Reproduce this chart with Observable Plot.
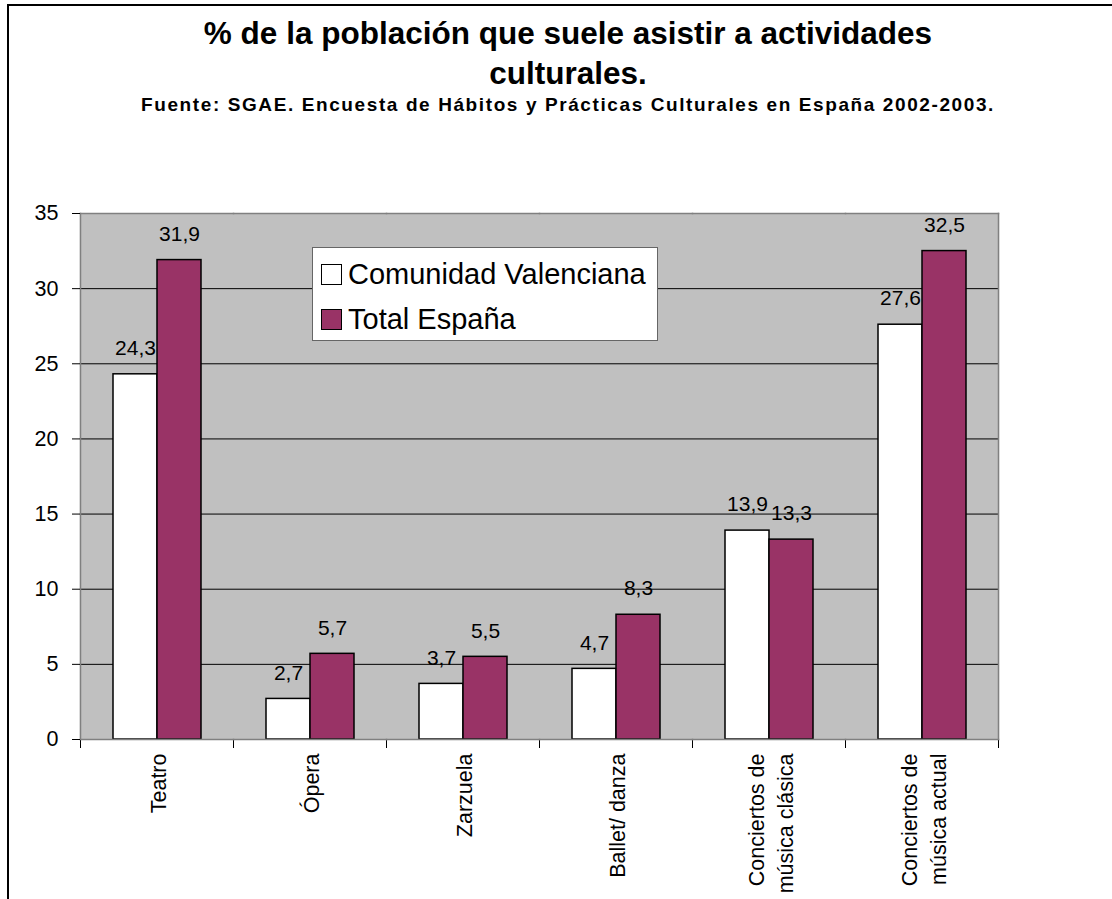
<!DOCTYPE html>
<html>
<head>
<meta charset="utf-8">
<script src="https://cdn.jsdelivr.net/npm/d3@7"></script>
<script src="https://cdn.jsdelivr.net/npm/@observablehq/plot@0.6"></script>
<style>
  html, body { margin: 0; padding: 0; background: #fff; }
  #page { position: relative; width: 1112px; height: 899px; overflow: hidden; font-family: Arial, "Liberation Sans", sans-serif; }
  #border { position: absolute; left: 7px; top: 4px; width: 1200px; height: 1000px; border-top: 2px solid #000; border-left: 2px solid #000; }
  .t { position: absolute; left: 0; width: 1136px; text-align: center; font-weight: bold; color: #000; white-space: nowrap; }
  #t1 { top: 18px; font-size: 31.5px; line-height: 31.5px; }
  #t2 { top: 58px; font-size: 31.5px; line-height: 31.5px; }
  #sub { top: 95px; font-size: 19px; line-height: 19px; letter-spacing: 1.6px; }
  #chart { position: absolute; left: 0; top: 130px; }
  #legend { position: absolute; left: 312px; top: 247px; width: 344px; height: 92px; background: #fff; border: 1px solid #666; }
  .li { position: absolute; left: 8px; font-size: 29px; line-height: 29px; color: #000; white-space: nowrap; }
  .sw { display: inline-block; width: 19px; height: 19px; border: 1px solid #000; margin-right: 6px; vertical-align: -1px; }
</style>
</head>
<body>
<div id="page">
  <div id="border"></div>
  <div class="t" id="t1">% de la población que suele asistir a actividades</div>
  <div class="t" id="t2">culturales.</div>
  <div class="t" id="sub">Fuente: SGAE. Encuesta de Hábitos y Prácticas Culturales en España 2002-2003.</div>
  <div id="chart"></div>
  <div id="legend"></div>
</div>
<script>
const categories = ["Teatro", "Ópera", "Zarzuela", "Ballet/ danza", "Conciertos de\nmúsica clásica", "Conciertos de\nmúsica actual"];
const series = ["Comunidad Valenciana", "Total España"];
const valencia = [24.3, 2.7, 3.7, 4.7, 13.9, 27.6];
const espana = [31.9, 5.7, 5.5, 8.3, 13.3, 32.5];
const yTicks = [0, 5, 10, 15, 20, 25, 30, 35];
const colors = ["#ffffff", "#993366"];

const data = [];
categories.forEach((c, i) => {
  data.push({cat: c, series: series[0], value: valencia[i]});
  data.push({cat: c, series: series[1], value: espana[i]});
});
const fmt = v => v.toFixed(1).replace(".", ",");
const firstCat = categories[0];
const lastCat = categories[categories.length - 1];

const plotH = 526;
const chart = Plot.plot({
  width: 1112,
  height: 769,
  marginTop: 83,
  marginLeft: 79,
  marginRight: 114,
  marginBottom: 160,
  style: {fontFamily: 'Arial, "Liberation Sans", sans-serif', background: "transparent", color: "#000", overflow: "visible"},
  fx: {domain: categories, padding: 0},
  x: {domain: series, paddingInner: 0, paddingOuter: 0.72, axis: null},
  y: {domain: [0, 35], axis: null},
  color: {domain: series, range: colors},
  marks: [
    Plot.frame({fill: "#c0c0c0", stroke: "none", insetLeft: -0.6, insetRight: -0.6}),
    Plot.gridY(yTicks.filter(d => d > 0 && d < 35), {stroke: "#000", strokeOpacity: 1, strokeWidth: 1}),
    Plot.frame({anchor: "top", stroke: "#808080", strokeWidth: 1.5}),
    Plot.frame({anchor: "right", stroke: "#808080", strokeWidth: 1.5, fx: () => lastCat}),
    Plot.frame({anchor: "left", stroke: "#808080", strokeWidth: 1.5, fx: () => firstCat}),
    Plot.frame({anchor: "left", stroke: "#000", insetTop: plotH, insetBottom: -8}),
    Plot.frame({anchor: "right", stroke: "#000", insetTop: plotH, insetBottom: -8, fx: () => lastCat}),
    Plot.barY(data, {fx: "cat", x: "series", y: "value", fill: "series", stroke: "#000", strokeWidth: 1.5}),
    Plot.frame({anchor: "bottom", stroke: "#808080", strokeWidth: 1.5}),
    Plot.text(data, {fx: "cat", x: "series", y: "value", text: d => fmt(d.value), dy: -26, fontSize: 21, fill: "#000"}),
    Plot.axisY(yTicks, {tickSize: 8, tickPadding: 14, fontSize: 21.5, label: null, stroke: "#000"}),
    Plot.axisFx({anchor: "bottom", tickRotate: -90, tickSize: 0, tickPadding: 14, fontSize: 21.5, lineHeight: 1.35, label: null})
  ]
});
document.getElementById("chart").appendChild(chart);

const legend = document.getElementById("legend");
series.forEach((s, i) => {
  const row = document.createElement("div");
  row.className = "li";
  row.style.top = (i === 0 ? 12 : 57) + "px";
  const sw = document.createElement("span");
  sw.className = "sw";
  sw.style.background = colors[i];
  row.appendChild(sw);
  row.appendChild(document.createTextNode(s));
  legend.appendChild(row);
});
</script>
</body>
</html>
